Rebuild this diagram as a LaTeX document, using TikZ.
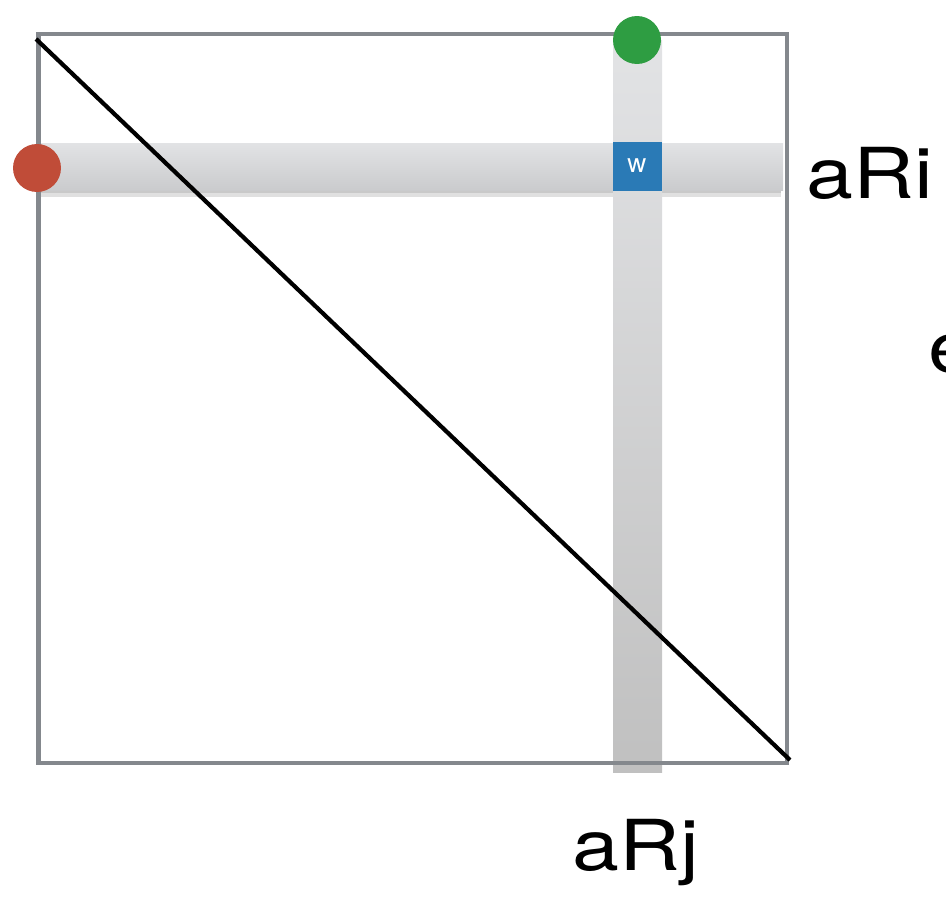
\documentclass[tikz,border=0pt]{standalone}
\usepackage{fontspec}
\setmainfont{TeX Gyre Heros}
\usetikzlibrary{positioning,shadows}
\definecolor{framegray}{RGB}{132,136,141}
\definecolor{bandlight}{RGB}{226,227,229}
\definecolor{banddark}{RGB}{202,203,205}
\definecolor{bandlow}{RGB}{192,192,192}
\definecolor{dotred}{RGB}{192,76,56}
\definecolor{dotgreen}{RGB}{46,157,66}
\definecolor{cellblue}{RGB}{42,122,182}

\begin{document}
\begin{tikzpicture}[
        x=0.02cm, y=-0.02cm,
        band/.style={draw=none, top color=bandlight, bottom color=banddark},
        dot/.style={circle, minimum size=0.96cm, inner sep=0pt},
        cell/.style={rectangle, fill=cellblue, text=white, minimum size=0.98cm, inner sep=0pt, font=\fontsize{15}{15}\selectfont},
        label/.style={inner sep=0pt, font=\fontsize{40}{40}\selectfont}
    ]
        \useasboundingbox (0,0) rectangle (946,900);
        \clip (0,0) rectangle (946,900);

        % corners of the matrix
        \coordinate (tl) at (38.5,34);
        \coordinate (br) at (787,763);
        \coordinate (dstart) at (36,39);
        \coordinate (dend) at (790,760);

        % row and column bands
        \fill[black, opacity=0.12] (39,190) rectangle (781,197);
        \fill[black, opacity=0.10] (39,190) rectangle (781,193);
        \fill[band] (37,143) rectangle (783,190);
        \fill[top color=bandlight, bottom color=bandlow] (613,40) rectangle (662,772);

        \draw[framegray, line width=2.8pt] (tl) rectangle (br);
        \draw[black, line width=2.4pt] (dstart) -- (dend);

        \node[dot, fill=dotred] (ri) at (37,168) {};
        \node[dot, fill=dotgreen] (rj) at (637,40) {};
        \node[cell] (w) at (637,166) {w};

        \node[label, anchor=base west, xscale=1.2] (aRi) at (806,198) {aRi};
        \node[label, anchor=base, xscale=1.2] (aRj) at (636,870) {aRj};
        \node[label, anchor=base west, xscale=1.2] (e) at (928,372) {e};
    \end{tikzpicture}
\end{document}
